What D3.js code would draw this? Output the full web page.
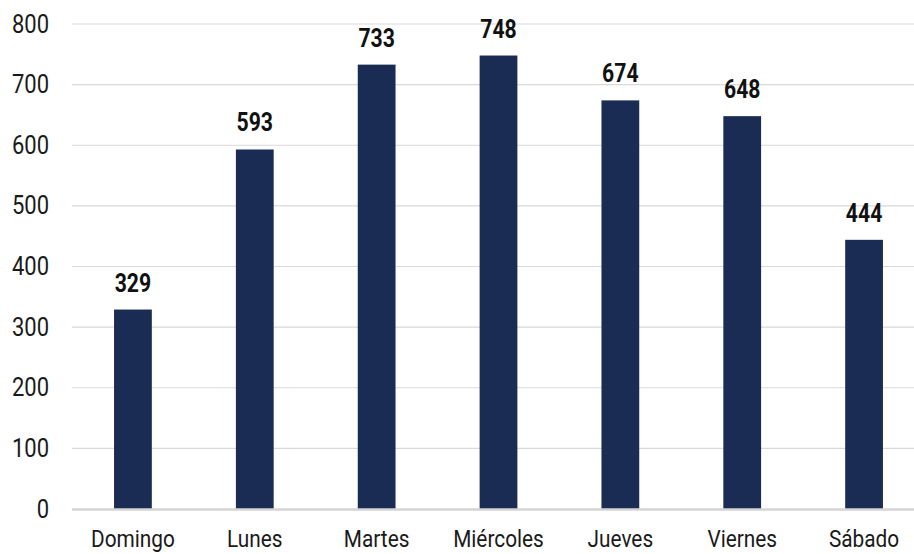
<!DOCTYPE html>
<html><head><meta charset="utf-8">
<script src="https://cdn.jsdelivr.net/npm/d3@7"></script>
<style>
html,body{margin:0;padding:0;background:#fff;}
svg{display:block;}
text{font-family:"Roboto","Noto Sans",sans-serif;}
</style></head>
<body>
<svg id="chart" width="914" height="554"></svg>
<script>
const categories = ["Domingo","Lunes","Martes","Miércoles","Jueves","Viernes","Sábado"];
const values = [329,593,733,748,674,648,444];
const yTicks = [0,100,200,300,400,500,600,700,800];

const svg = d3.select("#chart");
const x = d3.scaleBand().domain(categories).range([72,925]).paddingInner(0.69).paddingOuter(0.345);
const y = d3.scaleLinear().domain([0,800]).range([509,24]);

// gridlines
svg.append("g").selectAll("line").data(yTicks.filter(d=>d>0)).join("line")
  .attr("x1",72).attr("x2",914)
  .attr("y1",d=>y(d)).attr("y2",d=>y(d))
  .attr("stroke","#d9d9d9").attr("stroke-width",1.2);

// y axis labels
const yAxis = d3.axisLeft(y).tickValues(yTicks).tickSize(0).tickPadding(0).tickFormat(d3.format("d"));
const ya = svg.append("g").attr("transform","translate(49,0)").call(yAxis);
ya.select(".domain").remove();
ya.selectAll("text").attr("x",0).attr("font-size",25).attr("fill","#1a1a1a")
  .attr("transform","scale(0.88,1)")
  .style("font-family",'"Roboto",sans-serif');

// bars
svg.append("g").selectAll("rect").data(values).join("rect")
  .attr("x",(d,i)=>x(categories[i]))
  .attr("width",x.bandwidth())
  .attr("y",d=>y(d))
  .attr("height",d=>y(0)-y(d))
  .attr("fill","#1b2c54");

// baseline
svg.append("line").attr("x1",72).attr("x2",914).attr("y1",y(0)+0.5).attr("y2",y(0)+0.5)
  .attr("stroke","#d4d4d4").attr("stroke-width",2.5);

// x axis labels
const xAxis = d3.axisBottom(x).tickSize(0).tickPadding(0);
const xa = svg.append("g").attr("transform","translate(0,530)").call(xAxis);
xa.select(".domain").remove();
xa.selectAll("text").attr("font-size",24.5).attr("fill","#1a1a1a").attr("dy","0.71em")
  .attr("transform","scale(0.85,1)")
  .style("font-family",'"Roboto",sans-serif');

// value labels
const vg = svg.append("g").selectAll("g").data(values).join("g")
  .attr("transform",(d,i)=>`translate(${x(categories[i])+x.bandwidth()/2},${y(d)-18})`);
vg.append("text")
  .attr("text-anchor","middle")
  .attr("transform","scale(0.8,1)")
  .attr("font-size",26.5).attr("font-weight","bold").attr("fill","#111")
  .text(d=>d);
</script>
</body></html>
